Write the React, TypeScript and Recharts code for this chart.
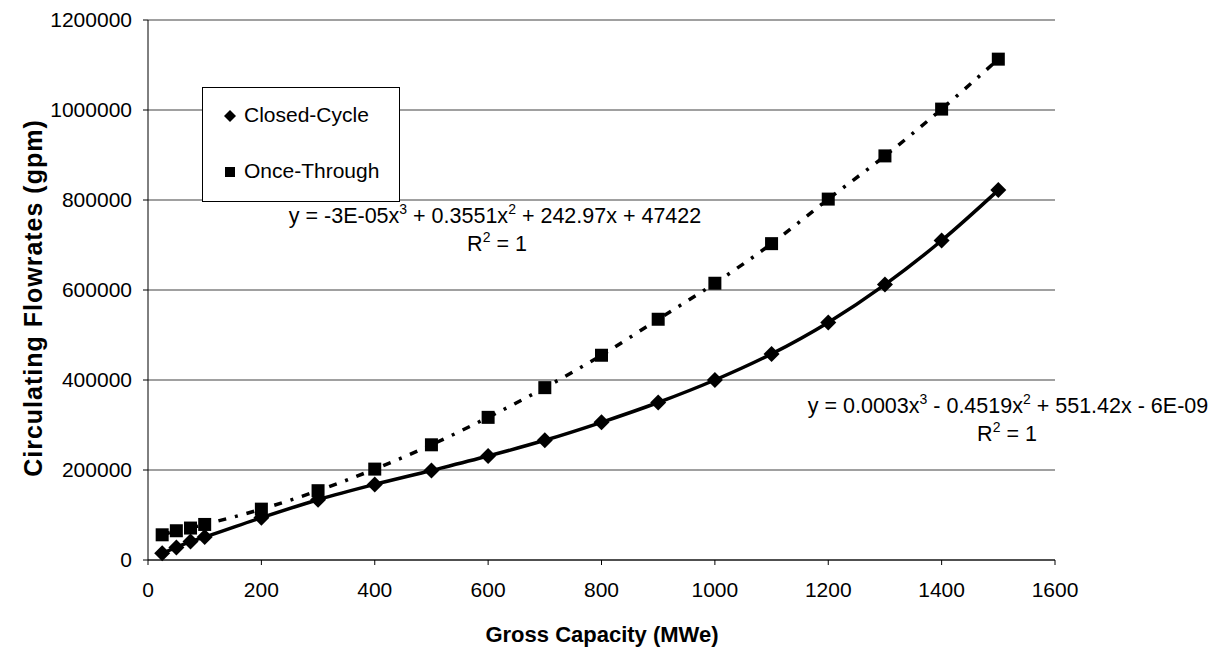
import React from "react";
import { LineChart, Line, XAxis, YAxis, CartesianGrid } from "recharts";

const capacity = [25, 50, 75, 100, 200, 300, 400, 500, 600, 700, 800, 900, 1000, 1100, 1200, 1300, 1400, 1500];
const closedCycle = [15000, 28000, 41000, 51000, 94000, 134000, 168000, 199000, 231000, 266000, 306000, 350000, 400000, 458000, 528000, 612000, 710000, 822000];
const onceThrough = [56000, 65000, 71000, 79000, 113000, 154000, 202000, 256000, 317000, 383000, 455000, 535000, 615000, 703000, 802000, 898000, 1002000, 1113000];
const xTicks = [0, 200, 400, 600, 800, 1000, 1200, 1400, 1600];
const yTicks = [0, 200000, 400000, 600000, 800000, 1000000, 1200000];

const data = capacity.map((x, i) => ({ x, closed: closedCycle[i], once: onceThrough[i] }));

const font = "'Liberation Sans', Arial, sans-serif";

const Diamond = (props: any) => {
  const { cx, cy } = props;
  if (cx == null || cy == null) return null;
  const r = 8;
  return <path d={`M${cx},${cy - r}L${cx + r},${cy}L${cx},${cy + r}L${cx - r},${cy}Z`} fill="#000" />;
};

const Square = (props: any) => {
  const { cx, cy } = props;
  if (cx == null || cy == null) return null;
  const s = 6.5;
  return <rect x={cx - s} y={cy - s} width={s * 2} height={s * 2} fill="#000" />;
};

const txt: React.CSSProperties = { position: "absolute", fontFamily: font, fontSize: 21, color: "#000", whiteSpace: "nowrap" };
const sup: React.CSSProperties = { fontSize: 14 };

export default function App() {
  return (
    <div style={{ position: "absolute", left: 0, top: 0, width: 1220, height: 652, background: "#fff" }}>
      <LineChart width={1220} height={652} data={data} margin={{ top: 20, right: 165, bottom: 0, left: 0 }}>
        <CartesianGrid vertical={false} stroke="#808080" strokeWidth={1.5} />
        <XAxis
          dataKey="x"
          type="number"
          domain={[0, 1600]}
          ticks={xTicks}
          height={92}
          stroke="#000"
          tickSize={5}
          tickMargin={17}
          tick={{ fill: "#000", fontSize: 21, fontFamily: font }}
        />
        <YAxis
          type="number"
          domain={[0, 1200000]}
          ticks={yTicks}
          width={148}
          stroke="#000"
          tickSize={5}
          tickMargin={11}
          tick={{ fill: "#000", fontSize: 21, fontFamily: font }}
        />
        <Line
          dataKey="closed"
          type="monotone"
          stroke="#000"
          strokeWidth={3.5}
          dot={<Diamond />}
          activeDot={false}
          isAnimationActive={false}
        />
        <Line
          dataKey="once"
          type="monotone"
          stroke="#000"
          strokeWidth={3.5}
          strokeDasharray="8 9 3 9"
          dot={<Square />}
          activeDot={false}
          isAnimationActive={false}
        />
      </LineChart>

      {/* axis titles */}
      <div
        style={{
          ...txt,
          fontWeight: "bold",
          fontSize: 25,
          letterSpacing: 1,
          left: 33,
          top: 298,
          transform: "translate(-50%, -50%) rotate(-90deg)",
        }}
      >
        Circulating Flowrates (gpm)
      </div>
      <div style={{ ...txt, fontWeight: "bold", fontSize: 22, left: 602, top: 635, transform: "translate(-50%, -50%)" }}>
        Gross Capacity (MWe)
      </div>

      {/* legend */}
      <div
        style={{
          position: "absolute",
          left: 202,
          top: 87,
          width: 196,
          height: 113,
          border: "1px solid #000",
          background: "#fff",
        }}
      >
        <svg style={{ position: "absolute", left: 20, top: 21 }} width={14} height={14}>
          <path d="M7,1L13,7L7,13L1,7Z" fill="#000" />
        </svg>
        <div style={{ ...txt, left: 41, top: 15 }}>Closed-Cycle</div>
        <svg style={{ position: "absolute", left: 21, top: 78 }} width={12} height={12}>
          <rect x={1} y={1} width={10} height={10} fill="#000" />
        </svg>
        <div style={{ ...txt, left: 41, top: 71 }}>Once-Through</div>
      </div>

      {/* trendline equations */}
      <div style={{ ...txt, fontSize: 21.5, left: 495, top: 215, transform: "translate(-50%, -50%)" }}>
        y = -3E-05x<sup style={sup}>3</sup> + 0.3551x<sup style={sup}>2</sup> + 242.97x + 47422
      </div>
      <div style={{ ...txt, fontSize: 21.5, left: 497, top: 243, transform: "translate(-50%, -50%)" }}>
        R<sup style={sup}>2</sup> = 1
      </div>
      <div style={{ ...txt, fontSize: 21.5, left: 1008, top: 405, transform: "translate(-50%, -50%)" }}>
        y = 0.0003x<sup style={sup}>3</sup> - 0.4519x<sup style={sup}>2</sup> + 551.42x - 6E-09
      </div>
      <div style={{ ...txt, fontSize: 21.5, left: 1007, top: 433, transform: "translate(-50%, -50%)" }}>
        R<sup style={sup}>2</sup> = 1
      </div>
    </div>
  );
}
